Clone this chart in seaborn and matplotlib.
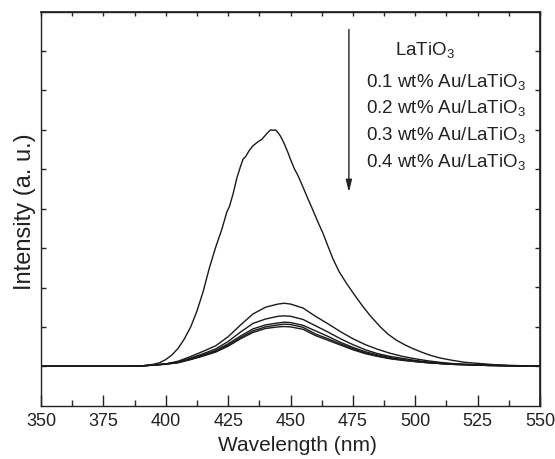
import numpy as np
import pandas as pd
import matplotlib
matplotlib.use("Agg")
import matplotlib.pyplot as plt
import seaborn as sns

# ---- data ----
labels = ["LaTiO$_3$", "0.1 wt% Au/LaTiO$_3$", "0.2 wt% Au/LaTiO$_3$",
          "0.3 wt% Au/LaTiO$_3$", "0.4 wt% Au/LaTiO$_3$"]

wl_main = [350, 360, 370, 380, 385, 390, 393, 395, 397.5, 400, 402.5, 405, 407.5,
           410, 412.5, 415, 417.5, 420, 422.5, 424.5, 425.5, 427, 428.5, 430, 431,
           432, 433.5, 435, 437, 438.5, 440, 441, 442, 443, 444, 445, 446, 447.5,
           449, 450, 451.5, 453, 455, 457, 459, 461, 463, 465, 467, 469.5, 472.5,
           476, 479, 482, 486, 489, 492.5, 496, 499, 502.5, 506, 510, 515, 520,
           526, 532, 540, 550]
int_main = [0, 0, 0, 0, 0.005, 0.01, 0.03, 0.05, 0.09, 0.17, 0.29, 0.46, 0.7,
            1.0, 1.4, 1.9, 2.5, 3.02, 3.48, 3.92, 4.05, 4.38, 4.78, 5.08, 5.26,
            5.32, 5.48, 5.6, 5.7, 5.76, 5.87, 5.94, 6.0, 5.99, 6.0, 5.93, 5.84, 5.65,
            5.42, 5.25, 5.02, 4.84, 4.55, 4.25, 3.96, 3.66, 3.38, 3.05, 2.73, 2.4, 2.1,
            1.78, 1.52, 1.28, 1.0, 0.82, 0.66, 0.54, 0.45, 0.36, 0.28, 0.21, 0.15, 0.1,
            0.07, 0.04, 0.02, 0.0]

wl_low = [350, 360, 370, 380, 385, 390, 395, 400, 405, 410, 415, 420, 425, 430,
          435, 440, 445, 447.5, 450, 455, 460, 465, 470, 475, 480, 485, 490, 495,
          500, 505, 510, 515, 520, 530, 540, 550]
int_01 = [0, 0, 0, 0, 0, 0.01, 0.03, 0.06, 0.13, 0.25, 0.38, 0.52, 0.75, 1.05,
          1.33, 1.5, 1.58, 1.6, 1.58, 1.48, 1.27, 1.08, 0.88, 0.7, 0.55, 0.43, 0.33,
          0.25, 0.19, 0.14, 0.1, 0.07, 0.05, 0.03, 0.01, 0]
int_02 = [0, 0, 0, 0, 0, 0.01, 0.03, 0.06, 0.11, 0.21, 0.32, 0.44, 0.63, 0.87,
          1.09, 1.2, 1.27, 1.28, 1.27, 1.19, 1.03, 0.87, 0.7, 0.55, 0.42, 0.32, 0.25,
          0.2, 0.15, 0.11, 0.08, 0.06, 0.05, 0.03, 0.01, 0]
int_03 = [0, 0, 0, 0, 0, 0.01, 0.03, 0.06, 0.1, 0.19, 0.29, 0.4, 0.57, 0.77,
          0.95, 1.05, 1.1, 1.12, 1.11, 1.04, 0.9, 0.76, 0.61, 0.48, 0.37, 0.29, 0.22,
          0.17, 0.13, 0.1, 0.07, 0.05, 0.04, 0.02, 0.01, 0]
int_04 = [0, 0, 0, 0, 0, 0.01, 0.03, 0.06, 0.1, 0.18, 0.27, 0.38, 0.54, 0.73,
          0.9, 1.0, 1.05, 1.07, 1.06, 0.99, 0.82, 0.7, 0.57, 0.45, 0.34, 0.26, 0.2,
          0.16, 0.12, 0.09, 0.07, 0.05, 0.04, 0.02, 0.01, 0]
int_00b = [0, 0, 0, 0, 0, 0.01, 0.03, 0.05, 0.09, 0.17, 0.26, 0.36, 0.51, 0.7,
           0.86, 0.96, 1.0, 1.01, 1.0, 0.94, 0.78, 0.66, 0.54, 0.42, 0.32, 0.25, 0.19,
           0.15, 0.12, 0.09, 0.07, 0.05, 0.04, 0.02, 0.01, 0]

xticks = [350, 375, 400, 425, 450, 475, 500, 525, 550]

# ---- build long-form table ----
frames = [pd.DataFrame({"wl": wl_main, "I": int_main, "s": labels[0]})]
for lab, vals in zip(labels[1:], [int_01, int_02, int_03, int_04]):
    frames.append(pd.DataFrame({"wl": wl_low, "I": vals, "s": lab}))
frames.append(pd.DataFrame({"wl": wl_low, "I": int_00b, "s": "extra"}))
df = pd.concat(frames, ignore_index=True)

sns.set_theme(style="ticks")
plt.rcParams["font.family"] = ["Liberation Sans", "DejaVu Sans"]
plt.rcParams["mathtext.fontset"] = "custom"
plt.rcParams["mathtext.rm"] = "Liberation Sans"
plt.rcParams["mathtext.it"] = "Liberation Sans"
plt.rcParams["mathtext.bf"] = "Liberation Sans"

fig = plt.figure(figsize=(5.55, 4.59), dpi=100)
ax = fig.add_axes([41 / 555, 1 - 405.7 / 459, 499 / 555, 394 / 459])

order = list(df["s"].unique())
sns.lineplot(data=df, x="wl", y="I", hue="s", hue_order=order,
             palette=["#1a1a1a"] * len(order), estimator=None, sort=True,
             linewidth=1.0, legend=False, ax=ax)

ax.set_xlim(350, 550)
ax.set_ylim(-1, 9)
ax.set_xticks(xticks)
ax.set_xticklabels([str(t) for t in xticks])
ax.set_xticks(np.arange(362.5, 550, 25), minor=True)
ax.set_yticks(np.arange(0, 9, 1))
ax.set_yticklabels([])
ax.tick_params(axis="x", which="major", direction="in", length=8, width=1,
               labelsize=13, pad=5, colors="#222222")
ax.tick_params(axis="x", which="minor", direction="in", length=4, width=1)
ax.tick_params(axis="y", which="major", direction="in", length=3.5, width=1, pad=0)
for sp in ax.spines.values():
    sp.set_linewidth(1.0)
    sp.set_color("#222222")

sec_x = ax.secondary_xaxis("top")
sec_x.set_xticks(np.arange(350, 551, 12.5))
sec_x.tick_params(direction="in", length=3, width=1, labeltop=False)
sec_y = ax.secondary_yaxis("right")
sec_y.set_yticks(np.arange(0, 9, 1))
sec_y.tick_params(direction="in", length=3.5, width=1, labelright=False)

ax.set_xlabel("Wavelength (nm)", fontsize=15, color="#222222")
ax.xaxis.set_label_coords(0.513, -0.078)
ax.set_ylabel("Intensity (a. u.)", fontsize=17, color="#222222")
ax.yaxis.set_label_coords(-0.01, 0.492)

# legend-style annotation with arrow
ax.annotate("", xy=(0.617, 0.535), xytext=(0.617, 0.962),
            xycoords="axes fraction", textcoords="axes fraction",
            arrowprops=dict(arrowstyle="-|>,head_length=0.6,head_width=0.15",
                            color="#222222", lw=1.0))
ax.text(0.709, 0.890, labels[0], transform=ax.transAxes, fontsize=13.5,
        va="baseline", ha="left", color="#222222")
for lab, yb in zip(labels[1:], [0.808, 0.742, 0.674, 0.607]):
    ax.text(0.651, yb, lab, transform=ax.transAxes, fontsize=13.5,
            va="baseline", ha="left", color="#222222")

fig.savefig("out.png", dpi=100)
